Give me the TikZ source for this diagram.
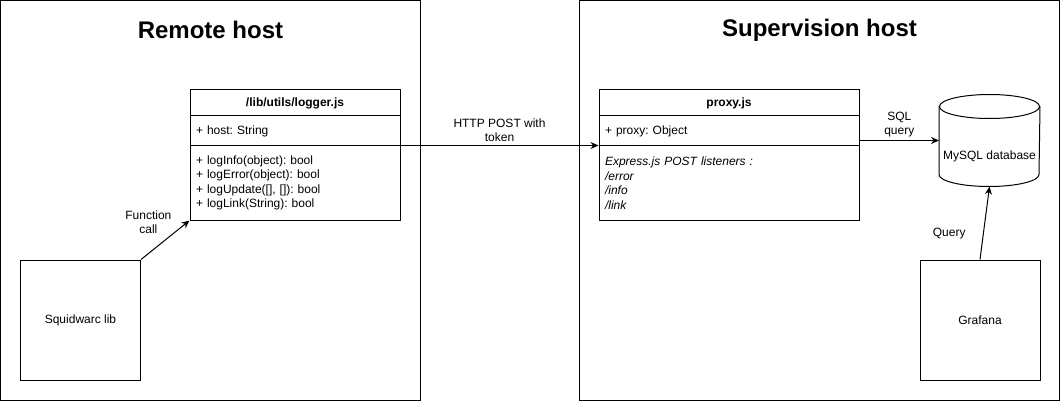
\documentclass[tikz,border=0pt]{standalone}
\usepackage{fontspec}
\setmainfont{Liberation Sans}
\frenchspacing
\usetikzlibrary{arrows.meta}
\begin{document}
\begin{tikzpicture}[x=1pt, y=-1pt, line width=1pt,
                host/.style={draw, rectangle, minimum width=420pt, minimum height=400pt, inner sep=0pt},
                hosttitle/.style={font=\fontsize{24}{28}\selectfont\bfseries},
                classhead/.style={draw, rectangle, minimum height=26pt, inner sep=0pt, font=\fontsize{12}{14.5}\selectfont\bfseries},
                classpart/.style={draw, rectangle, text width=#1, inner xsep=6pt, inner ysep=0pt, align=left, font=\fontsize{12}{14.5}\selectfont},
                block/.style={draw, rectangle, minimum width=120pt, minimum height=120pt, inner sep=0pt, font=\fontsize{12}{14.5}\selectfont},
                db/.style={rectangle, minimum width=100pt, minimum height=91pt, inner sep=0pt},
                lbl/.style={font=\fontsize{12}{14}\selectfont, align=center},
                arrow/.style={-{Stealth[length=8pt,width=7pt]}}]

                \useasboundingbox (0,0) rectangle (1060,401);

                \node[host] (remote) at (210.5,200.5) {};
                \node[hosttitle] (remotetitle) at (210.5,30) {Remote host};
                \node[host, minimum width=480pt] (supervision) at (819.5,200.5) {};
                \node[hosttitle] (supervisiontitle) at (819.5,30) {Supervision host};

                \node[classhead, minimum width=210pt] (logger) at (295,103) {/lib/utils/logger.js};
                \node[classpart=198pt, minimum height=30pt] (loggerattr) at (295,131) {+ host: String};
                \node[classpart=198pt, minimum height=74pt] (loggerops) at (295,183) {+ logInfo(object): bool\\+ logError(object): bool\\+ logUpdate([], []): bool\\+ logLink(String): bool};

                \node[classhead, minimum width=260pt] (proxy) at (729,103) {proxy.js};
                \node[classpart=248pt, minimum height=30pt] (proxyattr) at (729,131) {+ proxy: Object};
                \node[classpart=248pt, minimum height=74pt, font=\fontsize{12}{14.5}\selectfont\itshape] (proxyops) at (729,183) {Express.js POST listeners :\\/error\\/info\\/link};

                \node[block] (squid) at (80.5,320) {Squidwarc lib};
                \node[block] (grafana) at (980,320) {Grafana};

                % database cylinder
                \node[db, label={[lbl, yshift=-16pt]center:MySQL database}] (mysql) at (989.5,140.5) {};
                \draw ([yshift=-12pt]mysql.north) ellipse [x radius=50pt, y radius=12pt];
                \draw ([yshift=-12pt]mysql.north west) -- ([yshift=12pt]mysql.south west)
                    arc [start angle=180, end angle=360, x radius=50pt, y radius=12pt] -- ([yshift=-12pt]mysql.north east);

                \draw[arrow] (squid.north east) -- node[lbl, anchor=south east, xshift=10pt, yshift=3pt] {Function\\call} (loggerops.south west);
                \draw[arrow] (loggerops.north east) -- node[lbl, above] {HTTP POST with\\token} (proxyops.north west);
                \draw[arrow] (proxyattr.east |- mysql.west) -- node[lbl, above] {SQL\\query} (mysql.west);
                \draw[arrow] (grafana.north) -- node[lbl, left=14pt, pos=0.35] {Query} (mysql.south);
            \end{tikzpicture}
\end{document}
